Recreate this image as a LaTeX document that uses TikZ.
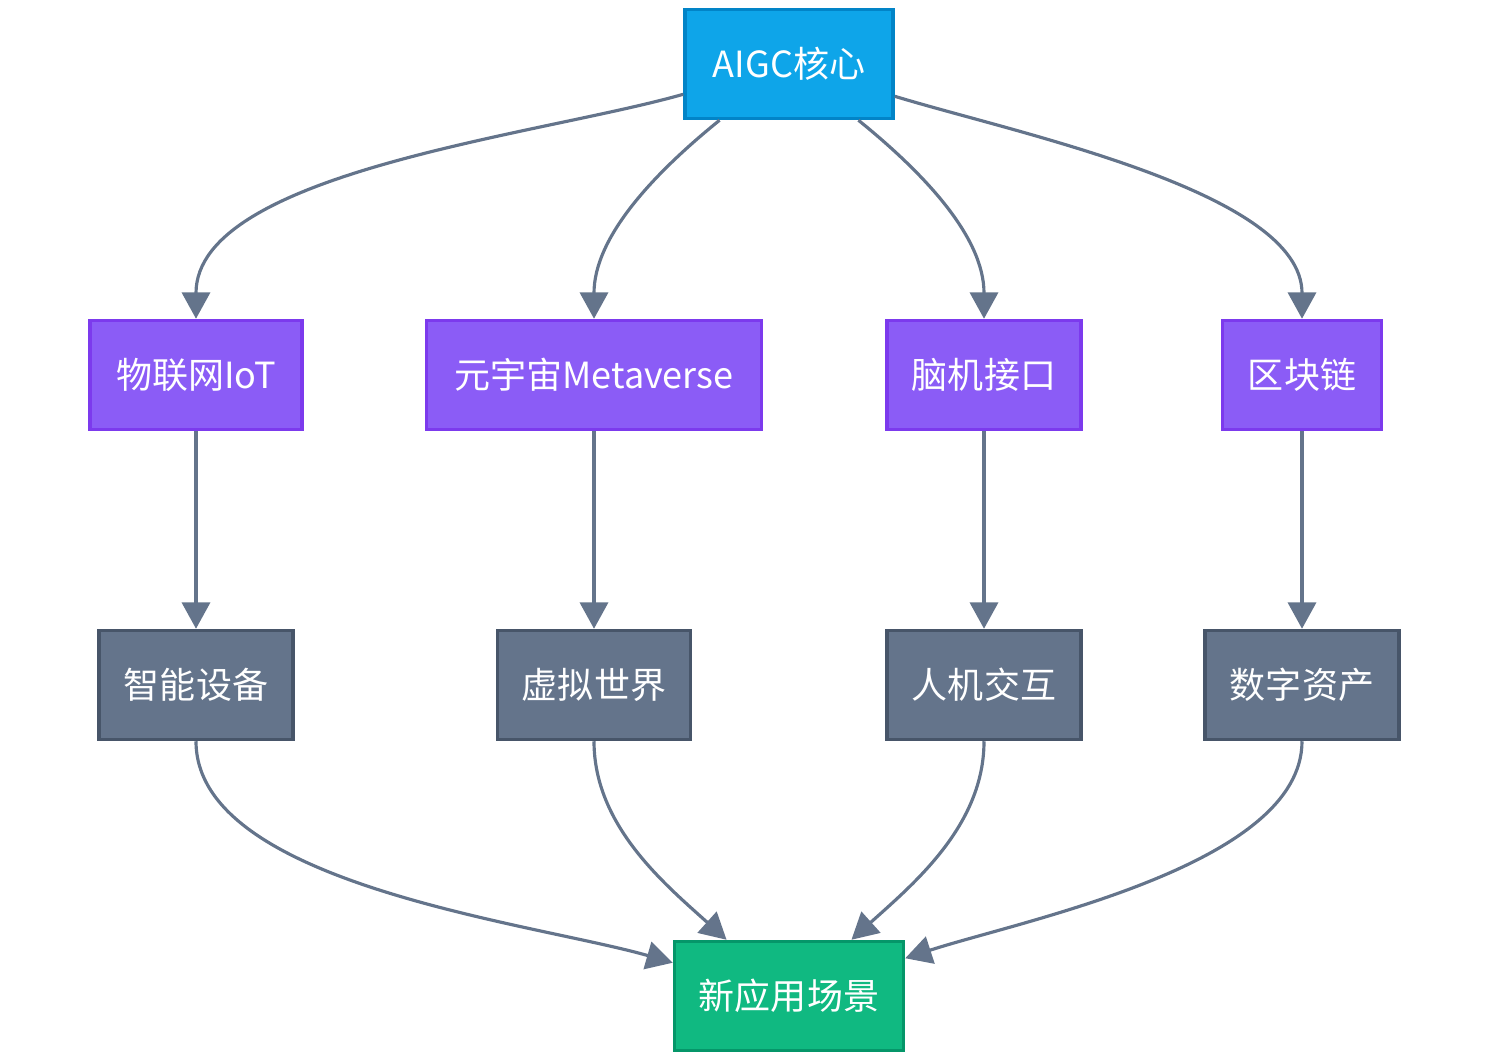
\documentclass[tikz,border=0pt]{standalone}
\usepackage{fontspec}
\setmainfont{Noto Sans CJK SC}
\usetikzlibrary{arrows.meta}
\definecolor{edgegray}{HTML}{64748B}
\definecolor{coreblue}{HTML}{0EA5E9}
\definecolor{coreline}{HTML}{0284C7}
\definecolor{techfill}{HTML}{8B5CF6}
\definecolor{techline}{HTML}{7C3AED}
\definecolor{resline}{HTML}{475569}
\definecolor{goalfill}{HTML}{10B981}
\definecolor{goalline}{HTML}{059669}
\tikzset{
  box/.style={draw, line width=2pt, minimum height=1.09*2cm, text=white,
    font=\fontsize{20.5}{24}\selectfont, inner sep=0pt},
  core/.style={box, fill=coreblue, draw=coreline},
  tech/.style={box, fill=techfill, draw=techline},
  res/.style={box, fill=edgegray, draw=resline},
  goal/.style={box, fill=goalfill, draw=goalline},
  link/.style={draw=edgegray, line width=1.8pt, -{Triangle[length=15pt,width=16pt]}}
}
\begin{document}
\begin{tikzpicture}[x=0.02cm,y=-0.02cm]
   \useasboundingbox (0,0) rectangle (1494,1060);
   \node[core, minimum width=4.16cm] (aigc) at (789,64) {AIGC核心};
   \node[tech, minimum width=4.24cm] (iot) at (196,375) {物联网IoT};
   \node[tech, minimum width=6.70cm] (meta) at (594,375) {元宇宙Metaverse};
   \node[tech, minimum width=3.88cm] (bci) at (984,375) {脑机接口};
   \node[tech, minimum width=3.18cm] (chain) at (1302,375) {区块链};
   \node[res, minimum width=3.88cm] (device) at (196,685) {智能设备};
   \node[res, minimum width=3.86cm] (world) at (594,685) {虚拟世界};
   \node[res, minimum width=3.88cm] (hci) at (984,685) {人机交互};
   \node[res, minimum width=3.88cm] (asset) at (1302,685) {数字资产};
   \node[goal, minimum width=4.58cm] (scene) at (789,996) {新应用场景};
   \path[link] (aigc) to[out=196, in=90, looseness=0.7] (iot); %core to iot
   \path[link] (aigc) to[out=-141, in=90, looseness=0.9] (meta); %core to metaverse
   \path[link] (aigc) to[out=-39, in=90, looseness=0.9] (bci); %core to bci
   \path[link] (aigc) to[out=-17, in=90, looseness=0.7] (chain); %core to chain
   \path[link] (iot) -- (device);
   \path[link] (meta) -- (world);
   \path[link] (bci) -- (hci);
   \path[link] (chain) -- (asset);
   \path[link] (device) to[out=-90, in=164, looseness=0.7] (scene); %device to scene
   \path[link] (world) to[out=-90, in=138, looseness=0.9] (scene); %world to scene
   \path[link] (hci) to[out=-90, in=42, looseness=0.9] (scene); %hci to scene
   \path[link] (asset) to[out=-90, in=18, looseness=0.7] (scene); %asset to scene
\end{tikzpicture}
\end{document}
